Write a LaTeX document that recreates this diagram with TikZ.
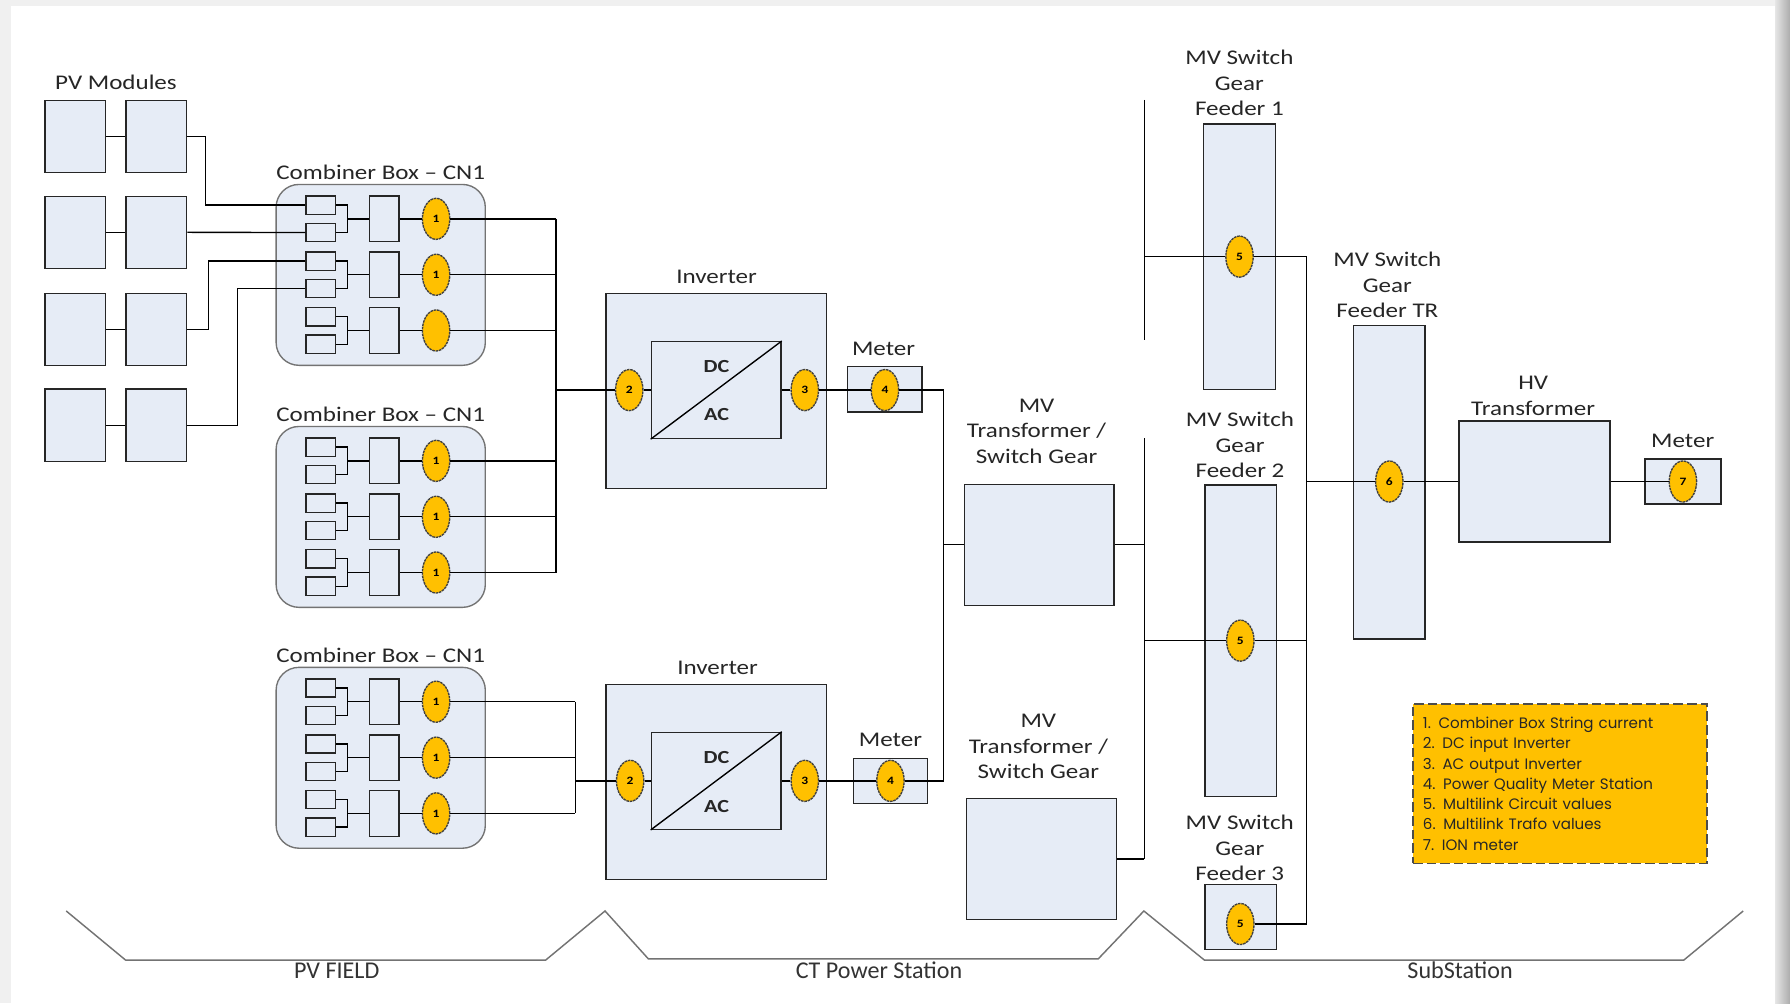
\documentclass[tikz,border=0pt]{standalone}
\usepackage{fontspec}
\setmainfont{Carlito}[FakeStretch=1.2]
\newfontfamily\zonefont{Carlito}
\newfontfamily\legendfont{Poppins}
\usetikzlibrary{shapes.geometric}
\definecolor{boxfill}{RGB}{230,236,246}
\definecolor{gold}{RGB}{255,192,0}
\tikzstyle{unit} = [rectangle, draw=black!85, fill=boxfill, inner sep=0pt]
\tikzstyle{module} = [unit, minimum width=1.33cm, minimum height=1.58cm]
\tikzstyle{cbox} = [rectangle, rounded corners=0.5cm, draw=black!55, fill=boxfill, minimum width=4.58cm, minimum height=3.96cm]
\tikzstyle{fuse} = [unit, minimum width=0.65cm, minimum height=0.4cm]
\tikzstyle{strbox} = [unit, minimum width=0.65cm, minimum height=1cm]
\tikzstyle{inverter} = [unit, minimum width=4.83cm, minimum height=4.27cm]
\tikzstyle{converter} = [unit, minimum width=2.84cm, minimum height=2.12cm]
\tikzstyle{meterbox} = [unit, minimum width=1.63cm, minimum height=0.99cm]
\tikzstyle{transformer} = [unit, minimum width=3.28cm, minimum height=2.65cm]
\tikzstyle{feeder} = [unit, minimum width=1.57cm]
\tikzstyle{meas} = [ellipse, draw=black!75, dash pattern=on 1.6pt off 0.5pt, fill=gold, minimum width=0.6cm, minimum height=0.9cm, inner sep=0pt, font=\fontsize{7}{7}\selectfont\bfseries]
\tikzstyle{lbl} = [align=center, inner sep=0pt, text=black!85, font=\fontsize{13}{15.9}\selectfont]
\tikzstyle{dcac} = [inner sep=0pt, text=black!85, font=\fontsize{11.5}{12}\selectfont\bfseries]
\tikzstyle{legendbox} = [rectangle, draw=black!70, dash pattern=on 6pt off 2.5pt, fill=gold, text width=6cm, inner xsep=0.22cm, minimum height=3.49cm, align=left, text=black!85, font=\legendfont\fontsize{9.4}{12.6}\selectfont]
\tikzstyle{zone} = [draw=black!55, line width=0.9pt]
\tikzstyle{zonelbl} = [inner sep=0pt, text=black!80, font=\zonefont\fontsize{15}{16}\selectfont]

\begin{document}
\begin{tikzpicture}[x=0.025cm, y={(0,-0.025cm)}, line width=0.85pt]
  \useasboundingbox (0,0) rectangle (1568,879);
  % page
  \fill[gray!12] (0,0) rectangle (1568,879);
  \fill[white] (10,5) rectangle (1555,879);
  \shade[left color=gray!20, right color=gray!65] (1555,0) rectangle (1568,879);

  % PV modules
  \node[lbl] (pvtitle) at (101.6,72.4) {PV Modules};
  \node[module] (m11) at (66,119.5) {};
  \node[module] (m12) at (137,119.5) {};
  \node[module] (m21) at (66,203.5) {};
  \node[module] (m22) at (137,203.5) {};
  \node[module] (m31) at (66,288.5) {};
  \node[module] (m32) at (137,288.5) {};
  \node[module] (m41) at (66,372.5) {};
  \node[module] (m42) at (137,372.5) {};
  \draw (m11) -- (m12);
  \draw (m21) -- (m22);
  \draw (m31) -- (m32);
  \draw (m41) -- (m42);

  % combiner boxes
  \foreach \b/\dy in {1/0, 2/212, 3/423} {
    \node[cbox] (cb\b) at (333.5,240.8+\dy) {};
    \node[lbl] (cb\b-title) at (333.5,151+\dy) {Combiner Box -- CN1};
    \foreach \g/\gy in {1/191.7, 2/240.7, 3/289.5} {
      \node[fuse] (cb\b-f\g-a) at (281,\gy+\dy-12) {};
      \node[fuse] (cb\b-f\g-b) at (281,\gy+\dy+12) {};
      \node[strbox] (cb\b-s\g) at (336.5,\gy+\dy) {};
      \node[meas] (cb\b-e\g) at (382,\gy+\dy) {\ifnum\b\g=13 \else 1\fi};
      \draw (cb\b-f\g-a.east) -- ++(10,0) |- (cb\b-s\g.west);
      \draw (cb\b-f\g-b.east) -- ++(10,0) |- (cb\b-s\g.west);
      \draw (cb\b-s\g) -- (cb\b-e\g);
    }
  }

  % strings to combiner box
  \draw (m12.east) -- ++(16,0) |- (cb1-f1-a.west);
  \draw (m22.east) -- (cb1-f1-b.west);
  \draw (m32.east) -- ++(18.5,0) |- (cb1-f2-a.west);
  \draw (m42.east) -- ++(44,0) |- (cb1-f2-b.west);

  % inverters
  \node[lbl] (inv1-title) at (627.7,242.4) {Inverter};
  \node[inverter] (inv1) at (627.5,342.4) {};
  \node[converter] (conv1) at (627.4,341.7) {};
  \draw (conv1.south west) -- (conv1.north east);
  \node[dcac] (conv1-dc) at (627.7,320.7) {DC};
  \node[dcac] (conv1-ac) at (627.7,363) {AC};
  \node[meas] (inv1-e2) at (551.2,341.7) {2};
  \node[meas] (inv1-e3) at (705,341.7) {3};

  \node[lbl] (inv2-title) at (628.6,585.4) {Inverter};
  \node[inverter] (inv2) at (627.5,685) {};
  \node[converter] (conv2) at (627.4,684) {};
  \draw (conv2.south west) -- (conv2.north east);
  \node[dcac] (conv2-dc) at (627.7,663.4) {DC};
  \node[dcac] (conv2-ac) at (627.7,706.6) {AC};
  \node[meas] (inv2-e2) at (552,684) {2};
  \node[meas] (inv2-e3) at (705,684) {3};

  % DC buses
  \coordinate (busA-top) at (487,191.7);
  \coordinate (busA-bot) at (487,501.7);
  \coordinate (busB-top) at (504,614.7);
  \coordinate (busB-bot) at (504,712.5);
  \draw (busA-top) -- (busA-bot);
  \draw (busB-top) -- (busB-bot);
  \foreach \g in {1,2,3} {
    \draw (cb1-e\g.east) -- (cb1-e\g.east -| busA-top);
    \draw (cb2-e\g.east) -- (cb2-e\g.east -| busA-top);
    \draw (cb3-e\g.east) -- (cb3-e\g.east -| busB-top);
  }
  \draw (inv1-e2.west -| busA-top) -- (inv1-e2.west);
  \draw (inv2-e2.west -| busB-top) -- (inv2-e2.west);
  \draw (inv1-e2.east) -- (inv1-e2.east -| conv1.west);
  \draw (inv2-e2.east) -- (inv2-e2.east -| conv2.west);
  \draw (conv1.east |- inv1-e3.west) -- (inv1-e3.west);
  \draw (conv2.east |- inv2-e3.west) -- (inv2-e3.west);

  % meters
  \node[lbl] (met1-title) at (774,306) {Meter};
  \node[meterbox] (met1) at (775,341) {};
  \node[meas] (met1-e4) at (775.2,341.7) {4};
  \node[lbl] (met2-title) at (780,648) {Meter};
  \node[meterbox] (met2) at (780,684) {};
  \node[meas] (met2-e4) at (780,684) {4};
  \draw (inv1-e3) -- (met1-e4);
  \draw (inv2-e3) -- (met2-e4);
  \coordinate (tieA) at (826.4,341.7);
  \coordinate (tieB) at (826.4,684);
  \draw (met1-e4.east) -- (tieA) -- (tieB) -- (met2-e4.east);

  % MV transformers
  \node[lbl] (mvt1-title) at (908,377.5) {MV\\Transformer /\\Switch Gear};
  \node[transformer] (mvt1) at (910.3,477.2) {};
  \node[lbl] (mvt2-title) at (909.6,654) {MV\\Transformer /\\Switch Gear};
  \node[transformer] (mvt2) at (912.5,752.6) {};
  \coordinate (bus1-top) at (1002.4,87.6);
  \coordinate (bus1-bot) at (1002.4,298);
  \coordinate (bus2-top) at (1002.4,384);
  \coordinate (bus2-bot) at (1002.4,752.6);
  \draw (bus1-top) -- (bus1-bot);
  \draw (bus2-top) -- (bus2-bot);
  \draw (mvt1.west -| tieA) -- (mvt1.west);
  \draw (mvt1.east) -- (mvt1.east -| bus2-top);
  \draw (mvt2.east) -- (bus2-bot);

  % MV switch gear feeders
  \node[lbl] (fd1-title) at (1085.7,72.7) {MV Switch\\Gear\\Feeder 1};
  \node[feeder, minimum height=5.81cm] (fd1) at (1085.8,224.9) {};
  \node[meas] (fd1-e5) at (1085.8,224.8) {5};
  \node[lbl] (fd2-title) at (1086.2,389.8) {MV Switch\\Gear\\Feeder 2};
  \node[feeder, minimum height=6.825cm] (fd2) at (1086.9,561.4) {};
  \node[meas] (fd2-e5) at (1086.5,561.2) {5};
  \node[lbl] (fd3-title) at (1086,743) {MV Switch\\Gear\\Feeder 3};
  \node[feeder, minimum height=1.42cm] (fd3) at (1087,803.2) {};
  \node[meas] (fd3-e5) at (1086.5,809.4) {5};
  \coordinate (busR-top) at (1144.6,224.8);
  \coordinate (busR-bot) at (1144.6,809.4);
  \draw (busR-top) -- (busR-bot);
  \draw (fd1-e5.west -| bus1-top) -- (fd1-e5.west);
  \draw (fd1-e5.east) -- (busR-top);
  \draw (fd2-e5.west -| bus2-top) -- (fd2-e5.west);
  \draw (fd2-e5.east) -- (fd2-e5.east -| busR-top);
  \draw (fd3-e5.east) -- (busR-bot);

  % feeder TR, HV transformer, ION meter
  \node[lbl] (ftr-title) at (1215.3,249.8) {MV Switch\\Gear\\Feeder TR};
  \node[feeder, minimum height=6.87cm] (ftr) at (1217,422.4) {};
  \node[meas] (ftr-e6) at (1217,421.8) {6};
  \node[lbl] (hvt-title) at (1343,347) {HV\\Transformer};
  \node[transformer, minimum width=3.31cm] (hvt) at (1344.2,421.8) {};
  \node[lbl] (met7-title) at (1474,386.3) {Meter};
  \node[meterbox, minimum width=1.66cm] (met7) at (1474.2,421.8) {};
  \node[meas] (met7-e7) at (1474.2,421.8) {7};
  \draw (ftr-e6.west -| busR-top) -- (ftr-e6.west);
  \draw (ftr-e6.east) -- (hvt.west);
  \draw (hvt.east) -- (met7-e7.west);

  % legend
  \node[legendbox] (legend) at (1366.5,686.5) {1. Combiner Box String current\\2. DC input Inverter\\3. AC output Inverter\\4. Power Quality Meter Station\\5. Multilink Circuit values\\6. Multilink Trafo values\\7. ION meter};

  % zones
  \draw[zone] (58,798) -- (110,841) -- (478,841) -- (530,798) -- (568,840) -- (962,840) -- (1002,798) -- (1055,841) -- (1475,841) -- (1527,798);
  \node[zonelbl] (pvfield) at (295,850) {PV FIELD};
  \node[zonelbl] (ctstation) at (770,850) {CT Power Station};
  \node[zonelbl] (substation) at (1279,850) {SubStation};
\end{tikzpicture}
\end{document}
